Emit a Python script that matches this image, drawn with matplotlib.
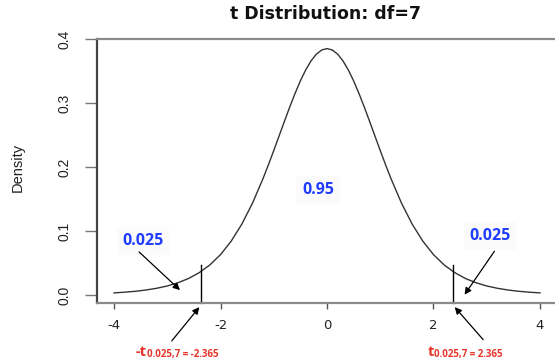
import matplotlib
matplotlib.use("Agg")
import matplotlib.pyplot as plt

# t density (df=7) values
x_vals = [-4.0, -3.8, -3.6, -3.4, -3.2, -3.0, -2.8, -2.6, -2.4, -2.2, -2.0,
          -1.8, -1.6, -1.4, -1.2, -1.1, -1.0, -0.9, -0.8, -0.7, -0.6, -0.5, -0.4,
          -0.3, -0.2, -0.1, 0.0,
          0.1, 0.2, 0.3, 0.4, 0.5, 0.6, 0.7, 0.8, 0.9, 1.0, 1.1, 1.2,
          1.4, 1.6, 1.8, 2.0, 2.2, 2.4, 2.6, 2.8, 3.0, 3.2, 3.4, 3.6, 3.8, 4.0]
density = [0.0033, 0.0044, 0.0058, 0.0078, 0.0105, 0.0141, 0.0191, 0.0258, 0.0349, 0.0470, 0.0631,
           0.0841, 0.1107, 0.1434, 0.1822, 0.2035, 0.2257, 0.2485, 0.2713, 0.2937, 0.3150, 0.3346, 0.3517,
           0.3658, 0.3763, 0.3828, 0.3850,
           0.3828, 0.3763, 0.3658, 0.3517, 0.3346, 0.3150, 0.2937, 0.2713, 0.2485, 0.2257, 0.2035, 0.1822,
           0.1434, 0.1107, 0.0841, 0.0631, 0.0470, 0.0349, 0.0258, 0.0191, 0.0141, 0.0105, 0.0078, 0.0058, 0.0044, 0.0033]
crit_left = -2.365
crit_right = 2.365
crit_line_top = 0.047
x_ticks = [-4, -2, 0, 2, 4]
x_ticklabels = ["-4", "-2", "0", "2", "4"]
y_ticks = [0.0, 0.1, 0.2, 0.3, 0.4]
y_ticklabels = ["0.0", "0.1", "0.2", "0.3", "0.4"]
title = "t Distribution: df=7"
tail_label = "0.025"
center_label = "0.95"

W, H = 555, 361
fig = plt.figure(figsize=(W / 100, H / 100), dpi=100)
ax = fig.add_axes([97 / W, 1 - 303 / H, (557 - 97) / W, (303 - 39) / H])

ax.plot(x_vals, density, color="#333333", lw=1.0)
ymin = -0.0125
ax.set_xlim(-4.32, 4.32)
ax.set_ylim(ymin, 0.4)

for c in (crit_left, crit_right):
    ax.plot([c, c], [ymin, crit_line_top], color="black", lw=1.0, clip_on=False)

for side, col in (("left", "#444444"), ("top", "#8a8a8a"), ("bottom", "#8a8a8a")):
    ax.spines[side].set_color(col)
    ax.spines[side].set_linewidth(1.6)
ax.spines["right"].set_visible(False)

narrow = ["Liberation Sans Narrow", "Liberation Sans", "DejaVu Sans"]
ax.set_xticks(x_ticks)
ax.set_xticklabels(x_ticklabels, fontsize=9.5, family="DejaVu Sans", color="#222222")
ax.set_yticks(y_ticks)
ax.set_yticklabels(y_ticklabels, fontsize=10, rotation=90, va="center",
                   family=narrow, color="#222222")
ax.tick_params(axis="x", length=4.3, width=1, color="#555555", pad=7)
ax.tick_params(axis="y", length=8.6, width=1, color="#777777", pad=10)

fig.text(18 / W, 1 - 167 / H, "Density", rotation=90, ha="center", va="center",
         fontsize=10.5, family=narrow, color="#222222")
fig.text(326 / W, 1 - 14 / H, title, ha="center", va="center", fontsize=12.5,
         fontweight="bold", family="DejaVu Sans", color="#111111")

blue = "#1f3cff"
red = "#e8352b"
lbl_font = ["Open Sans", "DejaVu Sans"]
box = dict(facecolor="#fbfbfb", edgecolor="none", pad=4)
ax.text(-3.455, 0.0844, tail_label, color=blue, fontsize=11.5, fontweight="bold",
        family=lbl_font, ha="center", va="center", bbox=box)
ax.text(3.061, 0.0922, tail_label, color=blue, fontsize=11.5, fontweight="bold",
        family=lbl_font, ha="center", va="center", bbox=box)
ax.text(-0.169, 0.164, center_label, color=blue, fontsize=11.5, fontweight="bold",
        family=lbl_font, ha="center", va="center", bbox=box)

arrow = dict(arrowstyle="-|>", color="black", lw=0.9, mutation_scale=10)
ax.annotate("", xy=(-2.723, 0.0047), xytext=(-3.568, 0.0703), arrowprops=arrow)
ax.annotate("", xy=(2.554, -0.0031), xytext=(3.174, 0.0719), arrowprops=arrow)
ax.annotate("", xy=(crit_left, -0.0156), xytext=(-2.948, -0.075), arrowprops=arrow,
            annotation_clip=False)
ax.annotate("", xy=(crit_right, -0.0156), xytext=(2.967, -0.073), arrowprops=arrow,
            annotation_clip=False)

def px(xp, yp):
    return xp / W, 1 - yp / H

fig.text(*px(147, 356.5), "-t", color=red, fontsize=10.5, fontweight="bold",
         family=lbl_font, ha="right", va="baseline")
fig.text(*px(147, 357.5), "0.025,7 = -2.365", color=red, fontsize=7, fontweight="bold",
         family=lbl_font, ha="left", va="baseline")
fig.text(*px(434, 356.5), "t", color=red, fontsize=10.5, fontweight="bold",
         family=lbl_font, ha="right", va="baseline")
fig.text(*px(434, 357.5), "0.025,7 = 2.365", color=red, fontsize=7, fontweight="bold",
         family=lbl_font, ha="left", va="baseline")

fig.savefig("out.png", dpi=100, facecolor="white")
